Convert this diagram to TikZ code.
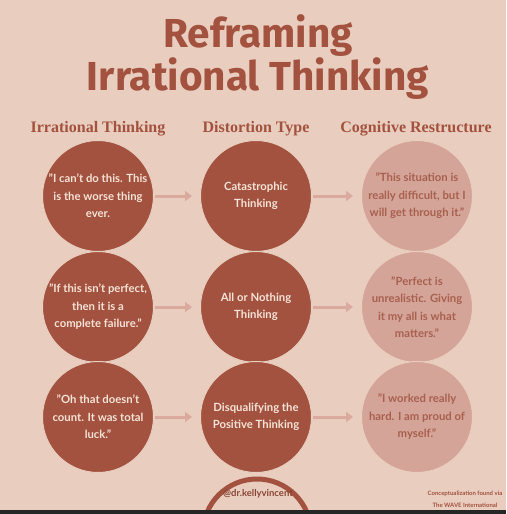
\documentclass[tikz,border=0pt]{standalone}
\usepackage{fontspec}
\setmainfont{Lato}
\newfontfamily\titlefont{Fira Sans}
\newfontfamily\headfont{Liberation Serif}
\usetikzlibrary{arrows.meta,shapes}
\definecolor{paper}{HTML}{E9CDBF}
\definecolor{rust}{HTML}{A2523E}
\definecolor{blush}{HTML}{D4A498}
\definecolor{rosetext}{HTML}{A8604F}
\definecolor{cream}{HTML}{F6E2D6}
\definecolor{arrowpink}{HTML}{D9AA9D}
\tikzstyle{darkvertex}=[circle,fill=rust,draw=paper,line width=1pt,minimum size=111pt,inner sep=0pt,align=center,text=cream,font=\bfseries\fontsize{11.3}{17.5}\selectfont]
\tikzstyle{lightvertex}=[darkvertex,fill=blush,text=rosetext]
\tikzstyle{edge}=[draw,line width=3pt,arrowpink,-{Triangle[length=7pt,width=10pt]},shorten <=1pt,shorten >=8pt]
\tikzstyle{colhead}=[anchor=base,text=rust,font=\headfont\bfseries\fontsize{16}{18}\selectfont]
\tikzstyle{title}=[anchor=base,text=rust,font=\titlefont\bfseries\fontsize{40.5}{43}\selectfont]

\begin{document}
\begin{tikzpicture}[x=1pt,y=-1pt]
    \fill[paper] (0,0) rectangle (506,514);
    \useasboundingbox (0,0) rectangle (506,514);
    % Title and column headers
    \node[title] (title1) at (258,47) {Reframing};
    \node[title] (title2) at (258,90) {Irrational Thinking};
    \foreach \x/\name/\head in {98/headirr/Irrational Thinking, 256/headdist/Distortion Type,
                                416/headcog/Cognitive Restructure}
        \node[colhead] (\name) at (\x,132) {\head};
    % Then the circles, one row at a time
    \foreach \pos/\name/\txt in {{(98,196)/irr1/{"I can't do this. This\\is the worse thing\\ever.}},
                                 {(98,307)/irr2/{"If this isn't perfect,\\then it is a\\complete failure."}},
                                 {(98,417)/irr3/{"Oh that doesn't\\count. It was total\\luck."}},
                                 {(256,196)/dist1/{Catastrophic\\Thinking}},
                                 {(256,307)/dist2/{All or Nothing\\Thinking}},
                                 {(256,417)/dist3/{Disqualifying the\\Positive Thinking}}}
        \node[darkvertex] (\name) at \pos {\txt};
    \foreach \pos/\name/\txt in {{(417,196)/cog1/{"This situation is\\really difficult, but I\\will get through it."}},
                                 {(417,307)/cog2/{"Perfect is\\unrealistic. Giving\\it my all is what\\matters."}},
                                 {(417,417)/cog3/{"I worked really\\hard. I am proud of\\myself."}}}
        \node[lightvertex] (\name) at \pos {\txt};
    % Connect circles with arrows
    \foreach \source/\dest in {irr1/dist1, irr2/dist2, irr3/dist3,
                               dist1/cog1, dist2/cog2, dist3/cog3}
        \path[edge] (\source) -- (\dest);

    % Footer
    \node[circle,draw=rust,line width=5pt,minimum size=108pt] (logo) at (257,533) {};
    \node[text=rust!85!black,font=\bfseries\fontsize{9.5}{12}\selectfont] (handle) at (258,494) {@dr.kellyvincent};
    \node[text=rust,align=center,font=\bfseries\fontsize{6}{12}\selectfont] (credit) at (465,499)
        {Conceptualization found via\\The WAVE International};
    \fill[black!85] (0,510) rectangle (506,514);
\end{tikzpicture}
\end{document}
